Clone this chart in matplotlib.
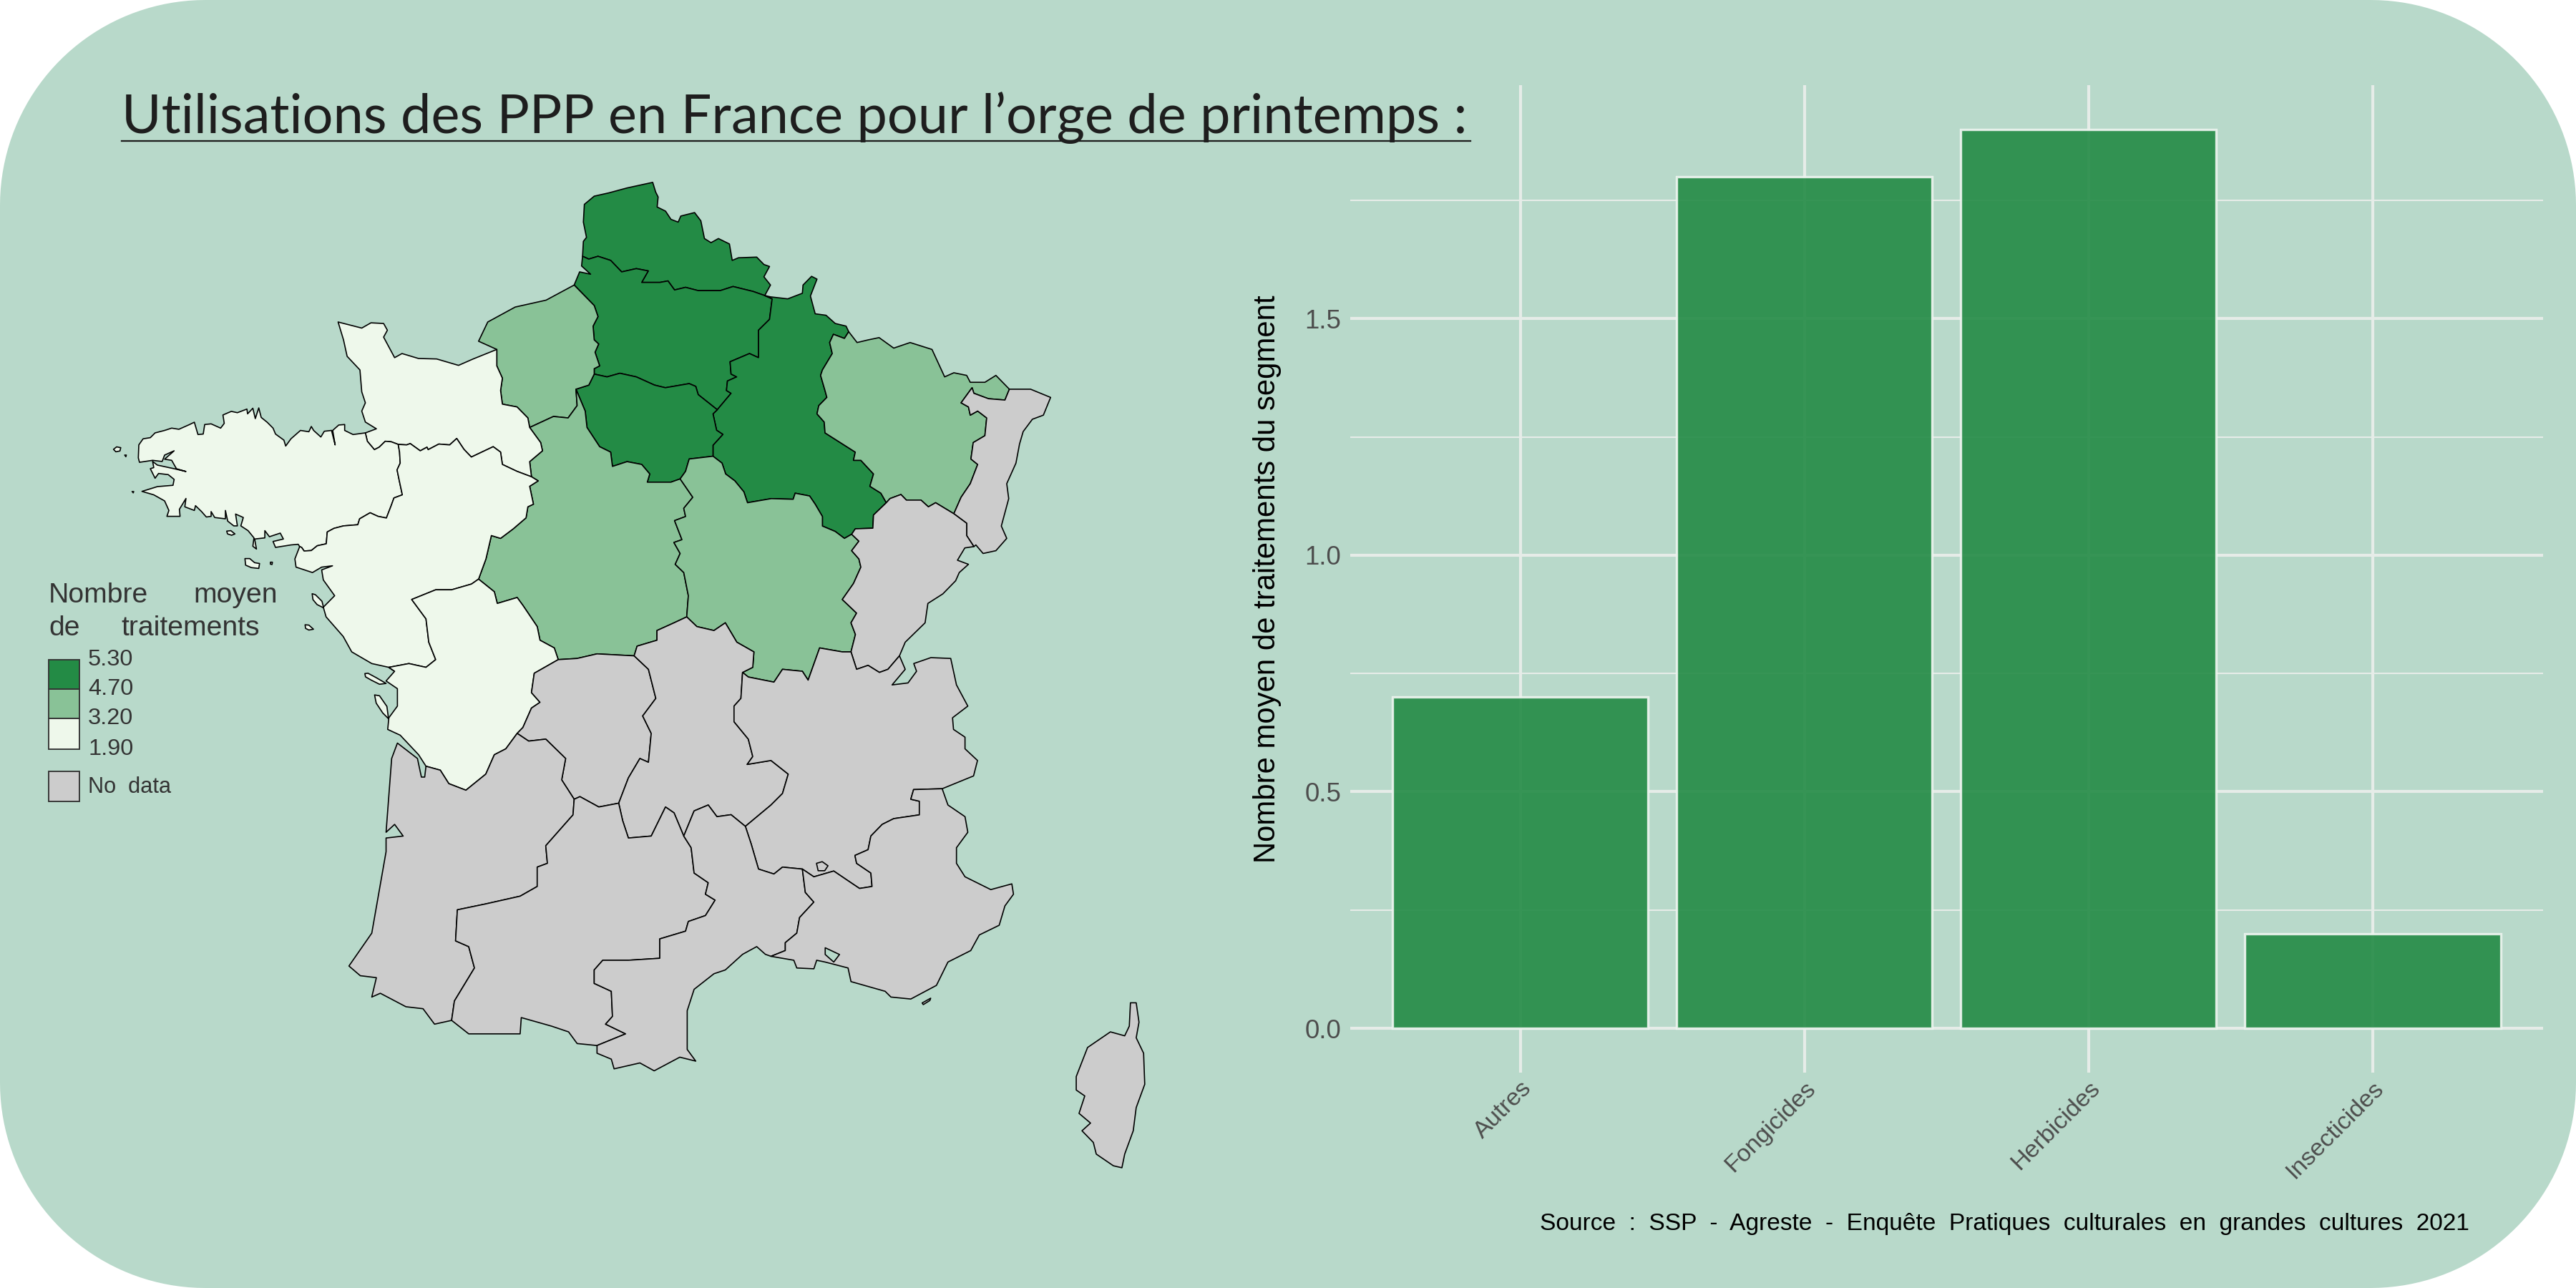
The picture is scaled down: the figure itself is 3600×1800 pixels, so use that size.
import numpy as np
import matplotlib
matplotlib.use("Agg")
import matplotlib.pyplot as plt
from matplotlib.patches import Polygon, Rectangle
from matplotlib.transforms import ScaledTranslation

# bar chart values
categories = ["Autres", "Fongicides", "Herbicides", "Insecticides"]
treatments = [0.7, 1.8, 1.9, 0.2]

# legend
legend_labels = ["5.30", "4.70", "3.20", "1.90"]

# map borders (x, y in map units, y going down)
nord_coast = [(354.6,156),(355.1,146.9),(357,144.5),(355.1,135.2),(355.7,124.4),(361.7,119.4),(370.6,117.4),(381.7,114.4),(389.5,112.7),(397.3,111),(399.1,116.9),(400.6,119.9),(400,126),(405.1,128.5),(408.4,133.5),(412.8,135.2),(414.4,131.5),(422.8,129.4),(426.6,134.4),(428.8,145.2),(432.8,147.7),(437.3,145.2),(444,148.5),(445.7,158.5),(449.5,156.9),(460.6,156.5),(465,161),(468.4,162.2),(465,168.5),(469,173.5),(465.5,179.9)]
nord_picardie = [(465.5,179.9),(458.4,177.4),(446.2,174.4),(438.4,176.9),(425,176.9),(417.3,174.9),(410.6,176.5),(406.6,171),(401.7,171.9),(390.6,171.9),(394.6,164.9),(387.3,163.5),(378.4,165.5),(371.7,158.5),(364,156),(358.4,157.7),(354.6,156)]
picardie_coast = [(354.6,156),(354,161.9),(359.5,166.9),(352.8,165.5),(349.5,173.5)]
picardie_hn = [(349.5,173.5),(361.7,186),(364,192.7),(361,198.5),(361.7,206.9),(364.4,209.4),(362.2,214.4),(365,222.7),(361.7,224.4),(361.7,227.7)]
picardie_idf = [(361.7,227.7),(369.5,229.4),(377.3,227.2),(387.3,229.4),(398.4,234.4),(405,236),(419.5,233.5),(423.5,235.2),(425,240.2),(436.6,249.4)]
picardie_champagne = [(465.5,179.9),(470,181.9),(468.4,194.4),(461.7,201),(461.7,217.7),(456.2,215.2),(444.4,220.2),(445,227.7),(448.4,229.4),(442.8,231.9),(442.2,237.7),(445,239.4),(436.6,249.4)]
champagne_north = [(465.5,179.9),(469,180.7),(479.5,181.9),(488.4,178.5),(488.8,173.5),(494,168.2),(497.3,169.9),(493.3,180.2),(496.2,191),(502.8,191.9),(508.4,196.9),(515,198.5),(516.6,201.9)]
champagne_lorraine = [(516.6,201.9),(514,206),(507.3,203.5),(505,208.5),(506.6,215.2),(500.6,225.2),(499.5,228.5),(502.4,238.5),(503.3,241.9),(498.4,246.9),(497.3,251.9),(501.7,256.9),(502.2,263.5),(520.6,275.2),(519.5,280.2),(524,280.2),(531.7,288.5),(529.5,296),(536.2,300.2),(539.5,306)]
champagne_fc = [(539.5,306),(531.7,313.5),(531.3,321.5),(520.6,321.9),(518.4,325.2)]
champagne_bourgogne = [(518.4,325.2),(514,327.7),(508.4,323.5),(500.6,320.2),(500.6,314.4),(496.2,306.9),(492.8,301.9),(484,300.2),(482.8,303.9),(469.5,303.5),(455,306),(452.8,299.4),(447.3,292.7),(441.7,288.5),(439.5,281.9),(434,277.7)]
idf_champagne = [(436.6,249.4),(434,251.9),(436.2,261.9),(440,264.4),(434,271),(434,277.7)]
idf_bourgogne = [(434,277.7),(419.5,279.4),(417.3,286.9),(414,291.5)]
idf_centre = [(414,291.5),(408.4,293.5),(401.7,293.5),(394,293.5),(395.5,288.5),(390.6,282.7),(381.7,281),(372.8,283.9),(371.7,275.2),(365,271.9),(357.3,260.2),(356.2,250.2),(350.6,236.9)]
idf_hn = [(350.6,236.9),(358.4,234.4),(361.7,227.7)]
hn_coast = [(349.5,173.5),(332.4,182.7),(313.6,186.9),(296.9,196),(291.3,207.7),(302.4,212.7)]
hn_bn = [(302.4,212.7),(302.4,222.7),(305.8,230.2),(304.7,237.7),(305.8,246),(314.7,247.7),(321.3,254.4),(322.4,260.2)]
hn_centre = [(322.4,260.2),(336.9,253.5),(345.8,254.4),(351.3,246.9),(350.6,236.9)]
bn_coast = [(302.4,212.7),(288,218.5),(279.1,222.4),(265.8,218.5),(254.7,218.2),(244.7,215.2),(240.2,217.7),(233.5,205.2),(235.8,201),(233.5,196.9),(225.8,196.5),(220.2,199.7),(205.8,196),(209.1,206.9),(211.3,216.9),(219.1,225.2),(220.2,238.5),(222.4,245.2),(220.2,250.2),(222.4,256.9),(229.1,261),(222.4,263.5)]
bn_bretagne = [(222.4,263.5),(223.6,268.6),(227.9,273.7),(230.8,272.2),(234.5,268.6),(238.1,268.9),(242.4,270.5)]
bn_pdl = [(242.4,270.5),(247.5,270.8),(249.7,270),(255.8,274.4),(259.9,272.2),(260.6,273.7),(267.1,270.3),(273.7,270.8),(278,266.9),(282.4,273.5),(286.9,278.2),(300.2,271.9),(304.7,275.2),(305.8,282.7),(314.7,286.9),(323.5,290.2)]
bn_centre = [(322.4,260.2),(329.1,269.4),(330.2,274.4),(322.4,281),(323.5,290.2)]
pdl_centre = [(323.5,290.2),(327.6,292.7),(322.4,296),(324.7,306.9),(321.3,308.5),(320.2,315.2),(312.4,321.9),(304.7,327.7),(299.1,326),(295.8,340.2),(291.3,352.5)]
centre_poitou = [(291.3,352.5),(300.9,360.2),(302.7,367.3),(314.8,363.7),(318.3,368.5),(327,381.4),(328.7,389.7),(337.4,394.4),(339.8,401.5)]
poitou_pdl = [(291.3,352.5),(287,355.5),(274.9,359),(265.2,359),(250.6,364.9),(259.3,376.7),(261,390.9),(265.2,401.5),(259.3,406.2),(248.9,403.9),(236.7,406.2),(240.2,408.6)]
pdl_bretagne = [(242.4,270.5),(243.2,275.1),(243.6,281.9),(241.7,286),(243.2,293.3),(244.9,301.2),(239.8,303.1),(238.1,307.8),(235.2,315.3),(230.1,314.3),(225.3,312.1),(218.9,315.8),(217.8,319.4),(209.1,320.1),(203.3,321.6),(199.2,323.8),(198.6,331),(193.1,332.2),(189.5,335.1),(185.1,335.4),(183.6,333.2),(182.4,332.7)]
bretagne_coast = [(222.4,263.5),(214.9,264.5),(209.8,262),(209.8,258.4),(206.2,258.7),(202.5,262),(204,270.8),(201.8,262),(197.4,262.5),(195.3,266),(190.9,262),(189.5,259.6),(188,262.8),(182.9,262),(177.1,267.1),(173.9,271.5),(172.8,267.9),(167.7,264.2),(166.2,260.6),(162.6,257),(159,254.1),(157.5,248.3),(155.4,254.8),(153.9,248.5),(150.7,251.9),(150.3,249),(144.5,251.2),(140.8,250.4),(135.7,252.6),(136.5,257.7),(134.3,260.6),(128.5,258),(124.6,258.4),(123.7,264.2),(120.5,264.5),(118.3,257),(115.4,258.4),(108.9,261.3),(104.5,260.6),(100.2,262),(94.4,263.5),(91.5,266.4),(87.1,267.1),(84.5,270.8),(84.2,278.7),(84.9,281.4),(92.9,280.2),(98.7,280.9),(100.2,277),(106,274.4),(100.2,279.5),(104.5,280.2),(107.4,285.3),(113.2,287),(106,285.3),(95.8,283.1),(92.9,280.9),(93.6,284.6),(91.5,285.3),(94.4,291.1),(96.5,288.2),(102.4,288.9),(106,291.8),(105.3,295.4),(95.8,296.2),(86.4,299.1),(93.6,301.2),(100.2,304.9),(102.8,310.7),(101.6,314.3),(109.6,314.3),(109.2,310),(113.2,303.4),(112.5,308.5),(118.3,310.7),(119,307.8),(122.7,311.4),(125.6,314.7),(128.5,314.3),(128.5,311.4),(130.7,315),(137.2,315.8),(137.2,310.7),(138.6,317.2),(142.3,320.1),(144.5,320.1),(143.4,312.9),(148.1,315),(146.6,320.1),(151,323),(154.6,327.4),(153.9,332.5),(156.1,334.2),(155,328.1),(161.2,327.4),(161.2,323),(164,326.7),(170.6,324.5),(172.5,328.1),(166.2,329.6),(167.7,333.2),(177.1,331.7),(181.5,331.3),(182.4,332.7)]
pdl_coast = [(182.4,332.7),(179.5,340.2),(180.2,345.2),(190.2,348.5),(195.8,345.2),(202.4,344.4),(195.8,346.9),(196.8,353),(203.7,362.6),(196.8,369.6),(198.5,375.5),(208.9,387.4),(214.1,396.8),(226.3,403.9),(236.7,406.2),(240.2,408.6)]
poitou_coast = [(240.2,408.6),(235,414.5),(241.9,419.2),(241.9,429.8),(236.7,436.9),(236,444),(243.6,447.5),(254.8,459.4),(259.3,466.4)]
poitou_aquitaine = [(259.3,466.4),(268,468.8),(273.2,477),(283.6,481),(295.7,471.2),(300.9,459.4),(307.9,455.8),(314.8,446.4)]
poitou_limousin = [(339.8,401.5),(325.2,409.8),(323.5,421.6),(328.7,427.5),(323.5,431),(318.3,442.8),(314.8,446.4)]
centre_limousin = [(339.8,401.5),(351.3,400.8),(363.4,398),(386,399.2)]
centre_bourgogne = [(414,291.5),(421.7,302.7),(416.2,309.4),(417.3,314.4),(410.6,316.9),(415.1,328.5),(410.2,330.2),(414,336.9),(411,343.5),(416.2,348.5),(419,362.6),(418,375.5)]
centre_auvergne = [(386,399.2),(387.8,393.3),(399.9,389.7),(399.9,383.8),(410.3,379.1),(418,375.5)]
bourgogne_auvergne = [(418,375.5),(424.2,381.4),(434.6,383.8),(441.5,379.1),(448.5,390.9),(458.9,396.8),(458.2,406.2),(452,409.3)]
bourgogne_ra = [(452,409.3),(455.5,412.1),(471.1,415.2),(476.3,407.4),(488.4,408.6),(491.9,414),(498.9,394.4),(512.7,396.8),(518,396.8)]
bourgogne_fc = [(518.4,325.2),(522.8,329.4),(518.4,335.2),(522.8,340.2),(524,345.2),(519.5,355.2),(512.7,364.9),(521.4,373.2),(518,379.1),(520.7,386.2),(518,396.8)]
fc_ra = [(518,396.8),(521.4,407.4),(528.4,405),(535.3,409.3),(540.5,407.4),(547.5,399.2)]
fc_swiss = [(547.5,399.2),(551,390.9),(563.1,379.1),(564.8,367.3),(573.9,361.5),(581.7,353.5),(583.9,348.5),(589.5,343.5),(582.8,341),(587.3,333.5),(592.8,332.7)]
fc_alsace = [(580.6,312.7),(588.4,318.5),(588.4,326),(592.8,332.7)]
fc_lorraine = [(539.5,306),(541.7,303.5),(548.4,301),(551.7,304.4),(560.6,304.4),(565.1,308.5),(569.5,306),(580.6,312.7)]
lorraine_alsace = [(580.6,312.7),(585,302.7),(590.6,294.4),(595.1,282.7),(591,279.4),(592.4,269.4),(599.5,265.2),(600.6,254.4),(595.1,250.2),(590.6,252.7),(589.5,247.7),(585,245.2),(591.7,236),(592.8,239.4),(601.7,242.7),(611.7,243.5),(614.4,236.9)]
lorraine_north = [(516.6,201.9),(521.7,208.5),(528.4,206.9),(535.1,205.5),(544,211.9),(554,208.5),(567.3,212.7),(575,229.4),(580.6,226.9),(588.4,228.5),(590.6,232.7),(599.5,232.7),(606.2,228.5),(614.4,236.9)]
alsace_east = [(614.4,236.9),(627.3,236.9),(639.5,241.9),(635.1,252.7),(628.4,255.2),(622.8,262.7),(620.6,270.2),(618.4,281.9),(612.8,294.4),(614,303.5),(609.5,320.2),(612.8,327.7),(606.2,335.2),(598.4,336.9),(594,331.7),(592.8,332.7)]
ra_east = [(547.5,399.2),(551,407.4),(543,416.9),(552.7,415.7),(557.9,408.6),(556.2,403.9),(566.6,400.3),(578.7,400.8),(582.2,416.9),(589.1,429.8),(579.8,436.9),(580.4,444),(587.4,448.7),(587.4,455.8),(595,462.9),(592.6,472.3),(573.5,480.1)]
ra_paca = [(573.5,480.1),(556.1,480.6),(554.4,486.5),(559.6,487.7),(559.6,496),(544,498.3),(537,501.8),(530.1,508.9),(528.4,517.2),(520.4,520.7),(521.4,525.5),(530.1,531.4),(530.8,539.6),(523.2,540.8),(516.2,536.1),(507.5,530.2),(495.4,533.7),(488.4,529)]
ra_lr = [(488.4,529),(476.3,527.8),(471.1,532),(461.7,529),(457.2,513.6),(453.7,503)]
ra_auvergne = [(452,409.3),(451,425.1),(446.8,429.8),(446.8,439.3),(455.5,449.9),(458.2,460.5),(454.8,465.3),(469.3,462.9),(479.8,471.2),(476.3,483),(469.3,490),(453.7,503)]
auvergne_lr = [(453.7,503),(445,495.9),(436.4,497.1),(431.1,490),(422.5,493.6),(416.2,508.9)]
auvergne_mp = [(416.2,508.9),(410.3,494.8),(405.1,491.2),(396.4,508.9),(382.5,510.1),(379,499.5),(376.6,488.9)]
auvergne_limousin = [(386,399.2),(394.7,407.4),(399.2,425.1),(391.2,435.8),(396.4,446.4),(394.7,464),(389.5,461.7),(382.5,473.5),(376.6,488.9)]
limousin_mp = [(376.6,488.9),(364.5,491.2),(353,484.9),(349.5,486.5)]
limousin_aquitaine = [(314.8,446.4),(321.8,451.1),(332.2,449.9),(344.3,461.7),(341.9,474.7),(349.5,486.5)]
aquitaine_mp = [(349.5,486.5),(348.8,496),(332.2,514.8),(333.2,525.5),(327,527.8),(327,539.6),(316.6,545.5),(295.7,550.2),(278.4,553.8),(277.3,572.7),(285.3,576.2),(288.8,589.2),(276.6,609.3),(274.9,621.1)]
aquitaine_coast = [(259.3,466.4),(258.5,473),(256.5,473),(254.1,461.7),(241.9,452.3),(238.4,461.7),(235,506.6),(240.2,501.8),(245.4,508.9),(235,510.1),(235,518.4),(226.3,568),(212.4,588),(219.3,593.9),(229.1,595.1),(226.3,606.9),(231.5,604.6),(247.1,612.8),(257.5,614),(264.5,623.4),(274.9,621.1)]
mp_south = [(274.9,621.1),(285.3,629.3),(302.7,629.3),(316.6,629.3),(317.3,619.4),(335.7,624.6),(346.1,628.1),(351.3,635.2),(363.4,636.4)]
mp_lr = [(416.2,508.9),(420.7,516),(422.5,531.4),(431.1,537.3),(429.4,544.3),(435.3,547.9),(429.4,557.3),(419,560.9),(417.3,566.8),(401.6,571.5),(401.6,583.3),(382.5,584.5),(366.9,584.5),(361.7,590.4),(361.7,598.6),(372.1,603.4),(372.8,618.7),(368.6,623.4),(380.8,629.3),(363.4,636.4)]
lr_south = [(363.4,636.4),(363.4,641.1),(372.1,644.7),(373.8,650.6),(389.5,647),(398.2,651.8),(413.8,643.5),(423.5,645.9),(418.3,638.8),(418.3,615.2),(422.5,602.2),(434.6,592.7),(441.5,590.4),(452,580.9),(460.6,576.2),(465.9,580.9),(469.3,582.1)]
lr_paca = [(488.4,529),(490.2,543.2),(495.4,549.1),(486.7,558.5),(485,568),(478,573.8),(478,578.6),(469.3,582.1)]
paca_coast = [(469.3,582.1),(483.2,584.5),(485,589.2),(495.4,589.7),(497.1,584.5),(502.3,585.6),(516.2,589.2),(518,597.5),(538.8,603.4),(542.3,606.9),(554.4,608.1),(570,599.8),(577,585.6),(590.9,578.6),(596.1,569.1),(608.2,563.2),(611.7,551.4),(616.9,544.3),(615.9,538),(603.1,541.5),(587.4,533.7),(582.2,525.5),(582.2,516),(589.1,506.6),(587.4,497.1),(577,490),(573.5,480.1)]
corse = [(688.1,610.4),(691.6,610.4),(693.3,622.2),(691.6,631.7),(696.1,641.1),(696.8,660),(691.6,674.2),(689.8,688.3),(684.6,702.5),(682.9,710.8),(677.7,709.6),(667.3,702.5),(665.5,695.4),(658.6,688.3),(663.8,683.6),(656.8,677.7),(660.3,667.1),(655.1,663.5),(655.1,655.3),(662,637.6),(675.9,628.1),(684.6,630.5),(687.4,624.6)]

# islands and holes
ouessant = [(69.1,273.5),(71,272),(73.5,272.5),(73,274.5),(70.5,275)]
molene = [(75.9,277),(76.9,277),(76.6,278)]
sein = [(80.4,299.2),(81.4,299.2),(81.1,300)]
groix = [(138,323.3),(140.5,323),(143,325),(141,325.8),(138.5,325)]
belle_ile = [(149.1,340),(152,340),(155,342.5),(158,343),(157.5,346),(153,345.5),(149.5,344)]
hoedic = [(164.6,342.2),(165.8,342.2),(165.6,343.6),(164.6,343.4)]
yeu = [(185.7,380.3),(188,380.5),(190.8,383),(188,383.5),(186,382.5)]
noirmoutier = [(190,361.4),(192,362),(196,366),(197,370),(193,368),(190.5,365)]
re = [(222.1,410),(224,409.8),(229,412.5),(235,416),(231,416.5),(226,414),(222.5,412)]
oleron = [(228,423),(231,423.5),(235.5,430),(236.5,437.5),(233,434),(229,428)]
avignon = [(497,525.5),(500.5,524.5),(504,527),(502,530),(498,530)]
hyeres = [(561.3,610.5),(566.5,607.6),(566,609),(562,611.5)]
berre = [(502.3,576.9),(511,581),(507.5,585.6),(502.3,581)]

DARK = "#238B45"
MID = "#89C297"
LIGHT = "#EEF8EB"
GREY = "#CCCCCC"
BG = "#B8D9CA"
W, H = 1568, 784


def ring(*chains):
    # joins the borders of a region one after the other
    first = chains[0]
    nxt = chains[1]
    ends = [nxt[0], nxt[-1]]
    if min(np.hypot(first[0][0] - e[0], first[0][1] - e[1]) for e in ends) < min(
        np.hypot(first[-1][0] - e[0], first[-1][1] - e[1]) for e in ends
    ):
        first = first[::-1]
    pts = list(first)
    for c in chains[1:]:
        last = pts[-1]
        if np.hypot(c[-1][0] - last[0], c[-1][1] - last[1]) < np.hypot(c[0][0] - last[0], c[0][1] - last[1]):
            c = c[::-1]
        pts.extend(c[1:])
    return pts


regions = [
    (ring(nord_coast, nord_picardie), DARK),
    (ring(picardie_coast, picardie_hn, picardie_idf, picardie_champagne, nord_picardie), DARK),
    (ring(champagne_north, champagne_lorraine, champagne_fc, champagne_bourgogne, idf_champagne, picardie_champagne), DARK),
    (ring(picardie_idf, idf_champagne, idf_bourgogne, idf_centre, idf_hn), DARK),
    (ring(hn_coast, hn_bn, hn_centre, idf_hn, picardie_hn), MID),
    (ring(idf_centre, hn_centre, bn_centre, pdl_centre, centre_poitou, centre_limousin, centre_auvergne, centre_bourgogne), MID),
    (ring(idf_bourgogne, centre_bourgogne, bourgogne_auvergne, bourgogne_ra, bourgogne_fc, champagne_bourgogne), MID),
    (ring(lorraine_north, lorraine_alsace, fc_lorraine, champagne_lorraine), MID),
    (ring(bn_coast, bn_bretagne, bn_pdl, bn_centre, hn_bn), LIGHT),
    (ring(bretagne_coast, pdl_bretagne, bn_bretagne), LIGHT),
    (ring(bn_pdl, pdl_centre, poitou_pdl, pdl_coast, pdl_bretagne), LIGHT),
    (ring(centre_poitou, poitou_limousin, poitou_aquitaine, poitou_coast, poitou_pdl), LIGHT),
    (ring(lorraine_alsace, alsace_east, fc_alsace), GREY),
    (ring(fc_lorraine, fc_alsace, fc_swiss, fc_ra, bourgogne_fc, champagne_fc), GREY),
    (ring(centre_limousin, auvergne_limousin, limousin_mp, limousin_aquitaine, poitou_limousin), GREY),
    (ring(centre_auvergne, bourgogne_auvergne, ra_auvergne, auvergne_lr, auvergne_mp, auvergne_limousin), GREY),
    (ring(bourgogne_ra, fc_ra, ra_east, ra_paca, ra_lr, ra_auvergne), GREY),
    (ring(poitou_aquitaine, limousin_aquitaine, aquitaine_mp, aquitaine_coast), GREY),
    (ring(auvergne_mp, limousin_mp, aquitaine_mp, mp_south, mp_lr), GREY),
    (ring(auvergne_lr, mp_lr, lr_south, lr_paca, ra_lr), GREY),
    (ring(ra_paca, lr_paca, paca_coast), GREY),
    (corse, GREY),
]
islands = [
    (ouessant, LIGHT), (molene, LIGHT), (sein, LIGHT), (groix, LIGHT), (belle_ile, LIGHT), (hoedic, LIGHT),
    (yeu, LIGHT), (noirmoutier, LIGHT), (re, LIGHT), (oleron, LIGHT),
    (avignon, GREY), (hyeres, GREY), (berre, BG),
]

fig = plt.figure(figsize=(12, 6), dpi=300, facecolor="white")

# full picture axes, units are the same as the traced map
bg = fig.add_axes([0, 0, 1, 1])
bg.set_xlim(0, W)
bg.set_ylim(H, 0)
bg.axis("off")

r = 125
t = np.linspace(0, np.pi / 2, 40)
corner_x = np.concatenate([r - r * np.cos(t), W - r + r * np.sin(t), W - r + r * np.cos(t), r - r * np.sin(t)])
corner_y = np.concatenate([r - r * np.sin(t), r - r * np.cos(t), H - r + r * np.sin(t), H - r + r * np.cos(t)])
bg.fill(corner_x, corner_y, color=BG, lw=0)

for pts, col in regions + islands:
    bg.add_patch(Polygon(pts, closed=True, facecolor=col, edgecolor="black", lw=0.4, joinstyle="round"))

# title
bg.text(74, 81, "Utilisations des PPP en France pour l’orge de printemps :", family="Lato",
        fontsize=18.2, color="#1E1E1E", ha="left", va="baseline")
bg.plot([74, 895], [86, 86], color="#1E1E1E", lw=0.55)

# legend
leg_font = "Liberation Sans"
bg.text(29.6, 366.7, "Nombre", family=leg_font, fontsize=9.4, color="#333333")
bg.text(169, 366.7, "moyen", family=leg_font, fontsize=9.4, color="#333333", ha="right")
bg.text(29.6, 386.8, "de", family=leg_font, fontsize=9.4, color="#333333")
bg.text(158, 386.8, "traitements", family=leg_font, fontsize=9.4, color="#333333", ha="right")
swatch_y = [401.6, 419.4, 437.3, 456]
for i, col in enumerate([DARK, MID, LIGHT]):
    bg.add_patch(Rectangle((29.6, swatch_y[i]), 18.7, swatch_y[i + 1] - swatch_y[i], facecolor=col,
                           edgecolor="#333333", lw=0.45))
for lab, y in zip(legend_labels, swatch_y):
    bg.text(53.6, y, lab, family=leg_font, fontsize=7.8, color="#333333", va="center")
bg.add_patch(Rectangle((29.6, 469.5), 18.7, 18.3, facecolor=GREY, edgecolor="#333333", lw=0.45))
bg.text(53.6, 479, "No  data", family=leg_font, fontsize=7.4, color="#333333", va="center")

# source
bg.text(1503, 745, "Source  :  SSP  -  Agreste  -  Enquête  Pratiques  culturales  en  grandes  cultures  2021",
        family="Liberation Sans", fontsize=8.04, color="black", ha="right", va="center")

# bars
ax = fig.add_axes([821.7 / W, 1 - 653 / H, 726.3 / W, 601 / H], facecolor="none")
x = np.arange(len(categories))
ax.bar(x, treatments, width=0.9, color=DARK, alpha=0.9, edgecolor="#EFF5F1", linewidth=0.8, zorder=3)
ax.set_xlim(-0.6, 3.6)
ax.set_ylim(-0.0941, 1.993)
ax.set_xticks(x)
ax.set_xticklabels(categories, rotation=45, ha="right", va="top", rotation_mode="anchor",
                   family="Liberation Sans", fontsize=8.2, color="#4D4D4D")
for lab in ax.get_xticklabels():
    lab.set_transform(lab.get_transform() + ScaledTranslation(-1.6 / 72, 0, fig.dpi_scale_trans))
ax.set_yticks([0, 0.5, 1.0, 1.5])
ax.set_yticklabels(["0.0", "0.5", "1.0", "1.5"], family="Liberation Sans", fontsize=8.8, color="#4D4D4D")
ax.set_yticks([0.25, 0.75, 1.25, 1.75], minor=True)
ax.tick_params(which="both", length=0)
ax.tick_params(axis="y", pad=3.0)
ax.tick_params(axis="x", pad=1.5)
ax.grid(True, which="major", color="#E6ECE8", lw=1.0, zorder=0)
ax.grid(True, which="minor", axis="y", color="#E6ECE8", lw=0.5, zorder=0)
ax.set_axisbelow(True)
for s in ax.spines.values():
    s.set_visible(False)
ax.set_ylabel("Nombre moyen de traitements du segment", family="Liberation Sans", fontsize=10.05, color="black")
ax.yaxis.set_label_coords(-0.0574, 0.5)

fig.savefig("out.png", dpi=300, facecolor="white")
